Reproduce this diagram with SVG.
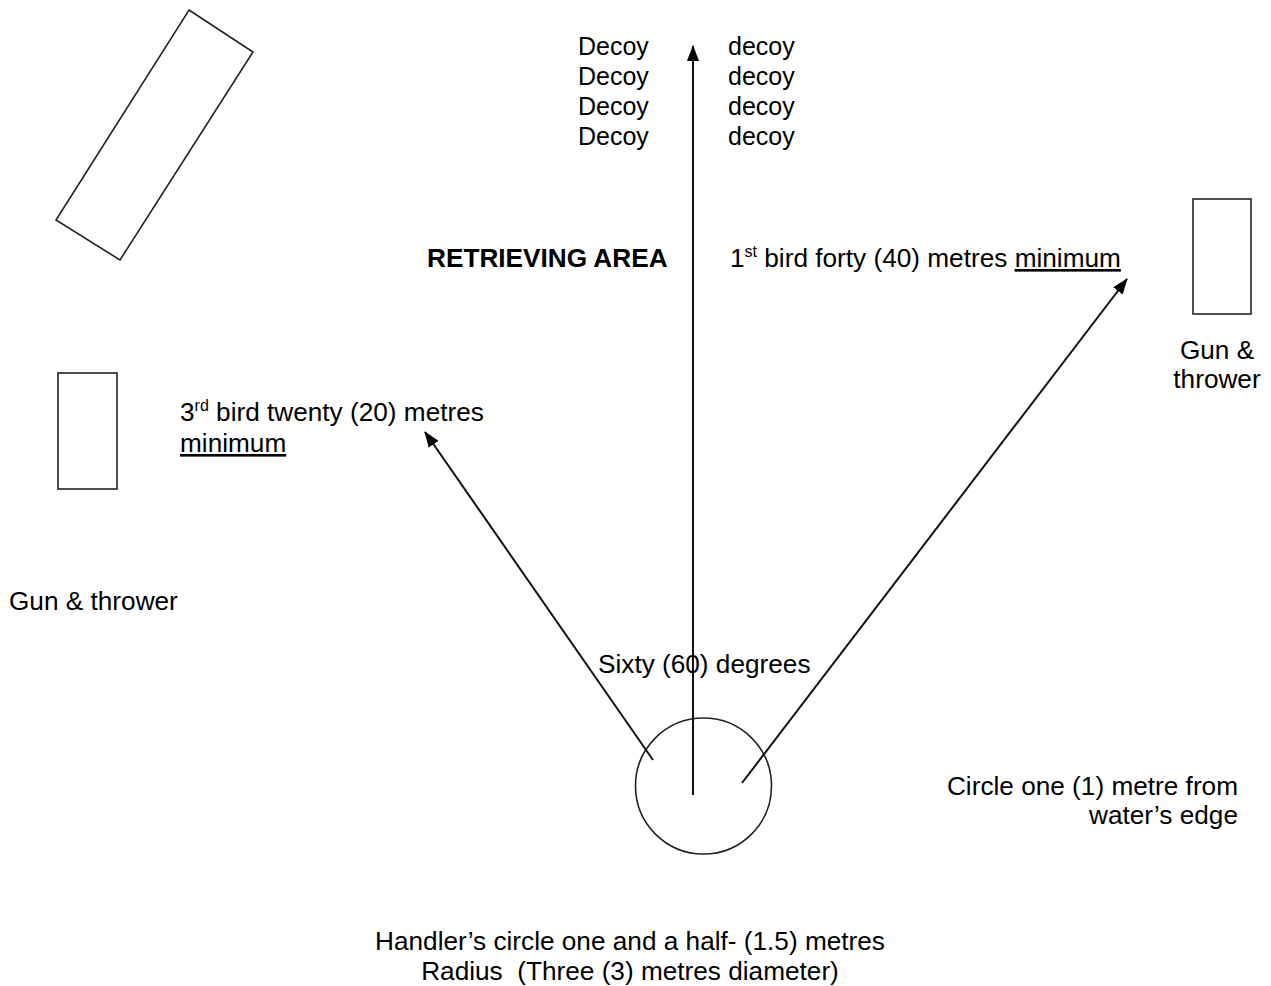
<svg xmlns="http://www.w3.org/2000/svg" width="1271" height="986" viewBox="0 0 1271 986">
<style>
text{font-family:"Liberation Sans",Arial,sans-serif;font-size:26.2px;fill:#000}
.b{font-weight:bold}
.d{font-size:25px}
.shape{fill:none;stroke:#222;stroke-width:1.6}
.arr{fill:none;stroke:#111;stroke-width:2;marker-end:url(#ah)}
</style>
<defs>
<marker id="ah" markerWidth="16" markerHeight="12" refX="15" refY="6" orient="auto" markerUnits="userSpaceOnUse">
<path d="M0,0 L16,6 L0,12 Z" fill="#000"/>
</marker>
</defs>
<rect width="1271" height="986" fill="#fff"/>
<g id="rotated-box"><polygon class="shape" points="189,10 253,52 120,260 56,220"/></g>
<g id="right-box"><rect class="shape" x="1193" y="199" width="58" height="115"/></g>
<g id="left-box"><rect class="shape" x="58" y="373" width="59" height="116"/></g>
<g id="handler-circle"><circle class="shape" cx="703.5" cy="786" r="68"/></g>
<g id="connectors">
<line class="arr" x1="693" y1="795" x2="693" y2="46"/>
<line class="arr" x1="653" y1="760" x2="425" y2="432"/>
<line class="arr" x1="742" y1="783" x2="1127" y2="279"/>
</g>
<g id="labels">
<text class="d" x="578" y="55">Decoy</text>
<text class="d" x="578" y="85">Decoy</text>
<text class="d" x="578" y="115">Decoy</text>
<text class="d" x="578" y="145">Decoy</text>
<text class="d" x="728" y="55">decoy</text>
<text class="d" x="728" y="85">decoy</text>
<text class="d" x="728" y="115">decoy</text>
<text class="d" x="728" y="145">decoy</text>
<text class="b" x="427" y="267">RETRIEVING AREA</text>
<text x="730" y="267">1<tspan font-size="16" dy="-10">st</tspan><tspan dy="10"> bird forty (40) metres </tspan><tspan text-decoration="underline">minimum</tspan></text>
<text x="1217" y="359" text-anchor="middle">Gun &amp;</text>
<text x="1217" y="388" text-anchor="middle">thrower</text>
<text x="180" y="421">3<tspan font-size="16" dy="-10">rd</tspan><tspan dy="10"> bird twenty (20) metres</tspan></text>
<text x="180" y="452" text-decoration="underline">minimum</text>
<text x="9" y="610">Gun &amp; thrower</text>
<text x="598" y="673">Sixty (60) degrees</text>
<text x="1238" y="795" text-anchor="end">Circle one (1) metre from</text>
<text x="1238" y="824" text-anchor="end">water’s edge</text>
<text x="630" y="950" text-anchor="middle">Handler’s circle one and a half- (1.5) metres</text>
<text x="630" y="980" text-anchor="middle" xml:space="preserve">Radius  (Three (3) metres diameter)</text>
</g>
</svg>
